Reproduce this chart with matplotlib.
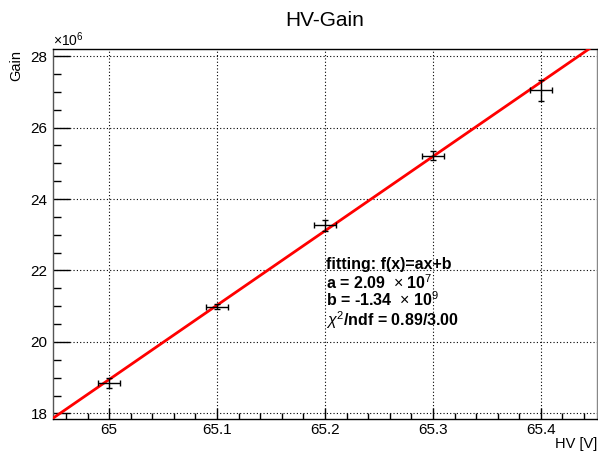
import matplotlib
matplotlib.use("Agg")
import matplotlib.pyplot as plt
from matplotlib.ticker import MultipleLocator
import numpy as np

plt.rcParams["font.family"] = ["Liberation Sans", "DejaVu Sans"]
plt.rcParams["mathtext.fontset"] = "custom"
plt.rcParams["mathtext.rm"] = "Liberation Sans"
plt.rcParams["mathtext.it"] = "Liberation Sans:italic"

# data (gain in units of 1e6)
hv = [65.0, 65.1, 65.2, 65.3, 65.4]
hv_err = [0.01, 0.01, 0.01, 0.01, 0.01]
gain = [18.85, 20.98, 23.26, 25.21, 27.04]
gain_err = [0.14, 0.07, 0.15, 0.12, 0.30]

# fit line f(x) = a*x + b (in 1e6 units)
fit_a = 20.8
fit_b = -1333.05

fig = plt.figure(figsize=(5.98, 4.54), dpi=100)
ax = fig.add_axes([53 / 598, 35.5 / 454, 544 / 598, 369.5 / 454])

xlim = (64.948, 65.452)
ax.set_xlim(*xlim)
ax.set_ylim(17.86, 28.196)

xs = np.linspace(xlim[0], xlim[1], 200)
ax.plot(xs, fit_a * xs + fit_b, color="red", lw=2, zorder=3)

ax.errorbar(hv, gain, xerr=hv_err, yerr=gain_err, fmt="none",
            ecolor="black", elinewidth=1, capsize=2.5, capthick=1, zorder=4)

ax.xaxis.set_minor_locator(MultipleLocator(0.02))
ax.yaxis.set_major_locator(MultipleLocator(2))
ax.yaxis.set_minor_locator(MultipleLocator(0.5))
ax.set_xticks(hv)
ax.set_xticklabels(["65", "65.1", "65.2", "65.3", "65.4"])

ax.grid(True, which="major", color="black", linestyle=(0, (1, 2)), lw=0.8)
ax.tick_params(axis="x", which="major", direction="in", length=8, width=1,
               labelsize=11, pad=3, top=False)
ax.tick_params(axis="x", which="minor", direction="in", length=4, width=1, top=False)
ax.tick_params(axis="y", which="major", direction="in", length=12, width=1,
               labelsize=11, pad=4, right=False)
ax.tick_params(axis="y", which="minor", direction="in", length=6, width=1, right=False)
for s in ax.spines.values():
    s.set_linewidth(1)
ax.spines["right"].set_color("#888888")
ax.spines["left"].set_color("#555555")

fig.text(325 / 598, 1 - 20 / 454, "HV-Gain", ha="center", va="center", fontsize=15)
fig.text(53 / 598, 1 - 40 / 454, r"$\times$10$^{6}$", ha="left", va="center", fontsize=10)
fig.text(16 / 598, 1 - 50 / 454, "Gain", rotation=90, ha="center", va="top", fontsize=10.5)
fig.text(597 / 598, 1 - 444 / 454, "HV [V]", ha="right", va="center", fontsize=10.5)

fit_lines = [
    "fitting: f(x)=ax+b",
    r"a = 2.09  $\times$ 10$^{7}$",
    r"b = -1.34  $\times$ 10$^{9}$",
    r"$\chi^{2}$/ndf = 0.89/3.00",
]
fit_y = [265, 282.5, 300, 320]
for t, y in zip(fit_lines, fit_y):
    fig.text(326 / 598, 1 - y / 454, t, ha="left", va="center",
             fontsize=11.5, fontweight="bold")

fig.savefig("out.png", dpi=100)
